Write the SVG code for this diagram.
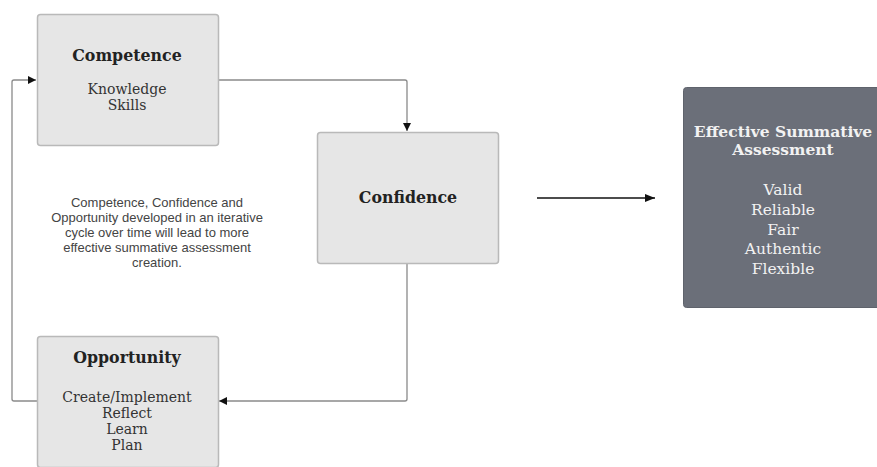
<svg xmlns="http://www.w3.org/2000/svg" width="877" height="467" viewBox="0 0 877 467">
<style>
.box{fill:#e6e6e6;stroke:#b9b9b9;stroke-width:1.5}
.dark{fill:#6b6f79;stroke:#5f636c;stroke-width:1}
.t{font-family:"DejaVu Serif","Liberation Serif",serif;font-weight:bold;font-size:15.8px;fill:#222;text-anchor:middle}
.i{font-family:"DejaVu Serif","Liberation Serif",serif;font-size:14px;fill:#333;text-anchor:middle}
.tw{font-family:"DejaVu Serif","Liberation Serif",serif;font-weight:bold;font-size:15.5px;fill:#f2f2f2;text-anchor:middle}
.iw{font-family:"DejaVu Serif","Liberation Serif",serif;font-size:15.5px;fill:#f2f2f2;text-anchor:middle}
.note{font-family:"Liberation Sans",Arial,sans-serif;font-size:13px;fill:#444;text-anchor:middle}
.c{fill:none;stroke:#8a8a8a;stroke-width:1.3}
.c2{fill:none;stroke:#111;stroke-width:1.5}
</style>
<defs>
<marker id="ah" viewBox="0 0 10 10" refX="10" refY="5" markerWidth="8" markerHeight="8" markerUnits="userSpaceOnUse" orient="auto">
<path d="M0,0 L10,5 L0,10 z" fill="#111"/>
</marker>
<marker id="ah2" viewBox="0 0 10 10" refX="10" refY="5" markerWidth="10" markerHeight="10" markerUnits="userSpaceOnUse" orient="auto">
<path d="M0,1 L10,5 L0,9 z" fill="#111"/>
</marker>
</defs>
<rect width="877" height="467" fill="#ffffff"/>
<g id="connectors">
<path class="c" d="M218,80 H405 Q407,80 407,82 V131" marker-end="url(#ah)"/>
<path class="c" d="M407,263 V399 Q407,401 405,401 H219" marker-end="url(#ah)"/>
<path class="c" d="M37,401 H14 Q12,401 12,399 V82 Q12,80 14,80 H36" marker-end="url(#ah)"/>
<path class="c2" d="M537,198 H655" marker-end="url(#ah2)"/>
</g>
<g id="competence">
<rect class="box" x="37.5" y="14.5" width="181" height="131" rx="3"/>
<text class="t" x="127" y="61">Competence</text>
<text class="i" x="127" y="94">Knowledge</text>
<text class="i" x="127" y="110">Skills</text>
</g>
<g id="confidence">
<rect class="box" x="317.5" y="132.5" width="181" height="131" rx="3"/>
<text class="t" x="408" y="203">Confidence</text>
</g>
<g id="opportunity">
<rect class="box" x="37.5" y="336.5" width="181" height="131" rx="3"/>
<text class="t" x="127" y="363">Opportunity</text>
<text class="i" x="127" y="402">Create/Implement</text>
<text class="i" x="127" y="418">Reflect</text>
<text class="i" x="127" y="434">Learn</text>
<text class="i" x="127" y="450">Plan</text>
</g>
<g id="note">
<text class="note" x="157" y="207">Competence, Confidence and</text>
<text class="note" x="157" y="222">Opportunity developed in an iterative</text>
<text class="note" x="157" y="237">cycle over time will lead to more</text>
<text class="note" x="157" y="252">effective summative assessment</text>
<text class="note" x="157" y="267">creation.</text>
</g>
<g id="effective">
<rect class="dark" x="683.5" y="87.5" width="200" height="220" rx="3"/>
<text class="tw" x="783" y="137">Effective Summative</text>
<text class="tw" x="783" y="155">Assessment</text>
<text class="iw" x="783" y="195">Valid</text>
<text class="iw" x="783" y="215">Reliable</text>
<text class="iw" x="783" y="235">Fair</text>
<text class="iw" x="783" y="254">Authentic</text>
<text class="iw" x="783" y="274">Flexible</text>
</g>
</svg>
